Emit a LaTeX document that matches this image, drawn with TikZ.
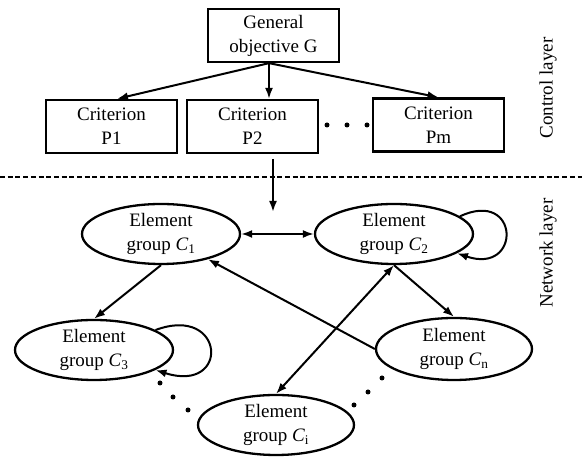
\documentclass[tikz,border=0pt]{standalone}
\usepackage{fontspec}
\setmainfont{Liberation Serif}
\usetikzlibrary{shapes.geometric,arrows.meta}
\begin{document}
\begin{tikzpicture}[x=1pt,y=1pt,
  every node/.style={font=\fontsize{19}{24}\selectfont},
  box/.style={draw,line width=2.3pt,minimum width=131pt,minimum height=53pt,inner sep=0pt,align=center},
  grp/.style={draw,ellipse,line width=2.3pt,minimum width=158pt,minimum height=60pt,inner sep=0pt,align=center},
  arr/.style={line width=2pt,-{Latex[length=11pt,width=8pt]}},
  darr/.style={line width=2pt,{Latex[length=11pt,width=8pt]}-{Latex[length=11pt,width=8pt]}},
  pdot/.style={circle,fill,inner sep=0pt,minimum size=5pt},
  sidelabel/.style={rotate=90,inner sep=0pt},
  sep/.style={line width=1.8pt,dash pattern=on 5pt off 2.7pt}]
\useasboundingbox (0,0) rectangle (582,457);

% control layer
\node[box] (g) at (273.5,421.5) {General\\objective G};
\node[box] (p1) at (111.5,330.5) {Criterion\\P1};
\node[box] (p2) at (252.5,330.5) {Criterion\\P2};
\node[box] (pm) at (438.5,332) {Criterion\\Pm};
\node[pdot] (d1) at (327,332) {};
\node[pdot] (d2) at (347,332) {};
\node[pdot] (d3) at (367,332) {};

\coordinate (gs) at ([xshift=-4.5pt]g.south);
\draw[arr] (gs) -- ([xshift=5.5pt]p1.north);
\draw[arr] (gs) -- ([xshift=16.5pt]p2.north);
\draw[arr] (gs) -- (pm.north);

\node[sidelabel] (cl) at (548,369) {Control layer};
\node[sidelabel] (nl) at (548,204) {Network layer};

% separator
\coordinate (sl) at (0,280);
\coordinate (sr) at (582,280);
\draw[sep] (sl) -- (sr);

\coordinate (vtop) at (273,298);
\coordinate (vbot) at (273,245);
\draw[arr] (vtop) -- (vbot);

% network layer
\node[grp] (c1) at (161,223) {Element\\group {\itshape C}\textsubscript{1}};
\node[grp] (c2) at (394,223) {Element\\group {\itshape C}\textsubscript{2}};
\node[grp] (c3) at (94,107) {Element\\group {\itshape C}\textsubscript{3}};
\node[grp,minimum width=156pt,minimum height=62pt] (cn) at (454,108) {Element\\group {\itshape C}\textsubscript{n}};
\node[grp,minimum width=156pt] (ci) at (276,32) {Element\\group {\itshape C}\textsubscript{i}};

\draw[darr] (c1.east) -- (c2.west);
\draw[arr] (c1.south) -- (c3.north);
\draw[arr] (cn.west) -- (c1);
\draw[arr] (c2.south) -- (cn.north);
\draw[darr] (ci.north) -- (c2.south);

\draw[arr] (c2.15) .. controls +(60,28) and +(65,-22) .. (c2.-17);
\draw[arr] (c3.18) .. controls +(70,26) and +(75,-24) .. (c3.-18);

\node[pdot] (e1) at (160,74) {};
\node[pdot] (e2) at (173,60) {};
\node[pdot] (e3) at (188,47) {};
\node[pdot] (f1) at (382,79) {};
\node[pdot] (f2) at (368,65) {};
\node[pdot] (f3) at (354,52) {};
\end{tikzpicture}
\end{document}
